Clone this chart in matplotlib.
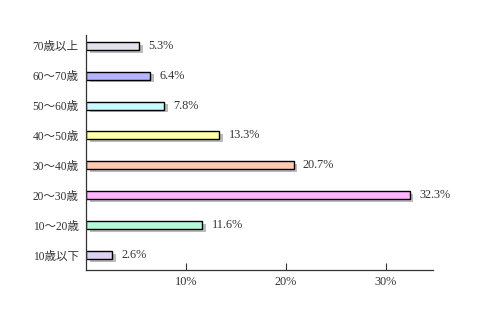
import matplotlib
matplotlib.use("Agg")
import matplotlib.pyplot as plt
import matplotlib.patheffects as pe

# serif digits, CJK glyphs fall back to Noto
plt.rcParams["font.family"] = ["Liberation Serif", "Noto Sans CJK JP", "DejaVu Sans"]

# ── Data ──────────────────────────────────────────────
categories = ["10歳以下", "10～20歳", "20～30歳", "30～40歳",
              "40～50歳", "50～60歳", "60～70歳", "70歳以上"]
values = [2.6, 11.6, 32.3, 20.7, 13.3, 7.8, 6.4, 5.3]
colors = ["#ddd2f2", "#b4f8d8", "#ffb4ff", "#ffcab4",
          "#ffffaa", "#ccf8ff", "#b4b4ff", "#e2e2ea"]
xticks = [10, 20, 30]
xtick_labels = ["10%", "20%", "30%"]

fig = plt.figure(figsize=(4.79, 3.26), dpi=100)
ax = fig.add_axes([85.5 / 479, 56 / 326, (433 - 85.5) / 479, (270 - 35) / 326])

ypos = list(range(len(categories)))
shadow = [pe.SimplePatchShadow(offset=(2.5, -2), shadow_rgbFace="#555555", alpha=0.4),
          pe.Normal()]
bars = ax.barh(ypos, values, height=0.27, left=0.08, color=colors,
               edgecolor="black", linewidth=1.0)
for b in bars:
    b.set_path_effects(shadow)

for y, v in zip(ypos, values):
    ax.text(v + 1.0, y, f"{v:.1f}%", va="center", ha="left",
            fontsize=8.8, color="#333333")

ax.set_xlim(0, 34.7)
ax.set_ylim(-0.5, 7.36)
ax.set_yticks(ypos)
ax.set_yticklabels(categories, fontsize=8.3, color="#333333")
ax.set_xticks(xticks)
ax.set_xticklabels(xtick_labels, fontsize=8.8, color="#333333")
ax.tick_params(axis="x", direction="in", length=5, width=0.8, color="#333333", pad=4)
ax.tick_params(axis="y", length=0, pad=5)

for s in ["top", "right"]:
    ax.spines[s].set_visible(False)
for s in ["left", "bottom"]:
    ax.spines[s].set_color("#333333")
    ax.spines[s].set_linewidth(0.9)

fig.savefig("out.png", dpi=100)
